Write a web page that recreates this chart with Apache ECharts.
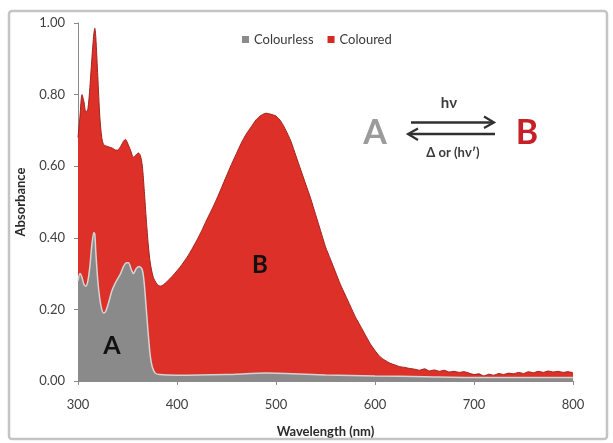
<!DOCTYPE html>
<html>
<head>
<meta charset="utf-8">
<script src="https://cdn.jsdelivr.net/npm/echarts@6/dist/echarts.min.js"></script>
<style>
html,body{margin:0;padding:0;background:#fff;}
#c{width:613px;height:443px;}
</style>
</head>
<body>
<div id="c"></div>
<script>
// Wavelengths (nm) and absorbance values
const colouredWl = [300,302,304,306,308,310,312,314,316,317,318,320,322,324,326,330,335,338,340,343,346,348,350,353,356,358,361,363,365,367,369,371,373,376,380,383,386,390,395,400,405,410,415,420,425,430,435,440,445,450,455,460,465,470,475,480,485,490,495,500,505,510,515,520,525,530,535,540,545,550,555,560,565,570,575,580,585,590,595,600,605,610,615,620,625,630,635,640,645,650,655,660,665,670,675,680,685,690,695,700,705,710,715,720,725,730,735,740,745,750,755,760,765,770,775,780,785,790,795,800];
const colouredAbs = [0.68,0.74,0.80,0.78,0.75,0.76,0.82,0.90,0.97,0.985,0.96,0.85,0.74,0.68,0.66,0.655,0.65,0.645,0.645,0.655,0.67,0.675,0.665,0.645,0.625,0.63,0.637,0.63,0.60,0.53,0.45,0.38,0.33,0.29,0.27,0.265,0.268,0.278,0.292,0.308,0.325,0.345,0.368,0.393,0.42,0.45,0.478,0.508,0.54,0.573,0.605,0.635,0.665,0.69,0.71,0.73,0.742,0.748,0.745,0.74,0.725,0.70,0.67,0.63,0.59,0.55,0.51,0.465,0.42,0.375,0.34,0.305,0.27,0.24,0.21,0.18,0.155,0.13,0.105,0.085,0.068,0.058,0.05,0.045,0.04,0.038,0.035,0.033,0.030,0.034,0.028,0.031,0.027,0.030,0.025,0.027,0.024,0.026,0.022,0.018,0.020,0.014,0.019,0.016,0.021,0.018,0.022,0.020,0.024,0.021,0.026,0.023,0.027,0.024,0.028,0.025,0.027,0.024,0.026,0.023];

const colourlessWl = [300,302,304,306,308,310,312,314,316,317,318,320,322,324,326,328,331,334,337,340,343,346,349,351,354,356,359,362,365,367,369,371,373,375,378,382,400,450,490,550,600,650,700,750,800];
const colourlessAbs = [0.28,0.30,0.29,0.27,0.265,0.28,0.32,0.38,0.415,0.41,0.36,0.28,0.23,0.20,0.19,0.195,0.22,0.25,0.27,0.285,0.30,0.32,0.33,0.33,0.31,0.30,0.315,0.32,0.31,0.27,0.20,0.13,0.07,0.04,0.022,0.018,0.016,0.018,0.022,0.017,0.014,0.012,0.010,0.010,0.010];

const xTicks = {min:300, max:800, interval:100};
const yTicks = {min:0, max:1, interval:0.2};
const seriesNames = ['Colourless','Coloured'];

const pair = (xs, ys) => xs.map((x,i)=>[x, ys[i]]);
const FONT = "Lato, 'DejaVu Sans', sans-serif";

const chart = echarts.init(document.getElementById('c'), null, {renderer:'canvas'});
chart.setOption({
  animation:false,
  backgroundColor:'#ffffff',
  textStyle:{fontFamily:FONT},
  grid:{left:78, right:40, top:23, bottom:59, containLabel:false},
  legend:{
    data:seriesNames,
    left:237, top:28,
    itemWidth:7, itemHeight:7, itemGap:14,
    icon:'rect',
    textStyle:{fontFamily:FONT, fontSize:13, color:'#3a3a3a'}
  },
  xAxis:{
    type:'value', min:xTicks.min, max:xTicks.max, interval:xTicks.interval,
    name:'Wavelength (nm)', nameLocation:'middle', nameGap:44,
    nameTextStyle:{fontFamily:FONT, fontWeight:'bold', fontSize:13, color:'#2a2a2a'},
    axisLine:{show:true, lineStyle:{color:'#8a8a8a', width:1}},
    axisTick:{show:true, inside:false, length:4, lineStyle:{color:'#8a8a8a'}},
    axisLabel:{fontFamily:FONT, fontSize:13, color:'#404040', margin:17},
    splitLine:{show:false}
  },
  yAxis:{
    type:'value', min:yTicks.min, max:yTicks.max, interval:yTicks.interval,
    name:'Absorbance', nameLocation:'middle', nameGap:51, nameRotate:90,
    nameTextStyle:{fontFamily:FONT, fontWeight:'bold', fontSize:13, color:'#2a2a2a'},
    axisLine:{show:true, lineStyle:{color:'#8a8a8a', width:1}},
    axisTick:{show:true, inside:false, length:4, lineStyle:{color:'#8a8a8a'}},
    axisLabel:{fontFamily:FONT, fontSize:13, color:'#404040', margin:13, formatter:v=>v.toFixed(2)},
    splitLine:{show:false}
  },
  series:[
    {
      name:seriesNames[0], type:'line', z:3,
      data:pair(colourlessWl, colourlessAbs),
      showSymbol:false, smooth:0.25,
      itemStyle:{color:'#8c8c8c'},
      lineStyle:{color:'#d4d4d4', width:1.5},
      areaStyle:{color:'#8a8a8a', opacity:1}
    },
    {
      name:seriesNames[1], type:'line', z:2,
      data:pair(colouredWl, colouredAbs),
      showSymbol:false, smooth:0.25,
      itemStyle:{color:'#d42a24'},
      lineStyle:{color:'#a3221c', width:1},
      areaStyle:{color:'#dc3028', opacity:1}
    }
  ],
  graphic:[
    {type:'rect', silent:true, z:100, shape:{x:9, y:11, width:598, height:428, r:3},
      style:{fill:'none', stroke:'#c4c4c4', lineWidth:2.5}},
    {type:'text', z:100, x:375, y:133, style:{text:'A', font:"bold 34px "+FONT, fill:'#9b9b9b', align:'center', verticalAlign:'middle'}},
    {type:'text', z:100, x:527, y:133, style:{text:'B', font:"bold 34px "+FONT, fill:'#c62128', align:'center', verticalAlign:'middle'}},
    {type:'text', z:100, x:449, y:103, style:{text:'hν', font:"bold 15px "+FONT, fill:'#3a3a3a', align:'center', verticalAlign:'middle'}},
    {type:'text', z:100, x:453, y:153, style:{text:'Δ or (hν′)', font:"bold 13px "+FONT, fill:'#3a3a3a', align:'center', verticalAlign:'middle'}},
    {type:'polyline', z:100, shape:{points:[[411,122.5],[493,122.5]]}, style:{stroke:'#303030', lineWidth:2.5, fill:'none'}},
    {type:'polyline', z:100, shape:{points:[[484,116.5],[494,122.5],[484,128]]}, style:{stroke:'#303030', lineWidth:2.2, fill:'none'}},
    {type:'polyline', z:100, shape:{points:[[409,134],[495,134]]}, style:{stroke:'#303030', lineWidth:2.5, fill:'none'}},
    {type:'polyline', z:100, shape:{points:[[418,128.5],[408,134],[418,140]]}, style:{stroke:'#303030', lineWidth:2.2, fill:'none'}},
    {type:'text', z:100, x:112, y:346, style:{text:'A', font:"bold 25px "+FONT, fill:'#111', align:'center', verticalAlign:'middle'}},
    {type:'text', z:100, x:260, y:265, style:{text:'B', font:"bold 24px "+FONT, fill:'#111', align:'center', verticalAlign:'middle'}}
  ]
});
</script>
</body>
</html>
